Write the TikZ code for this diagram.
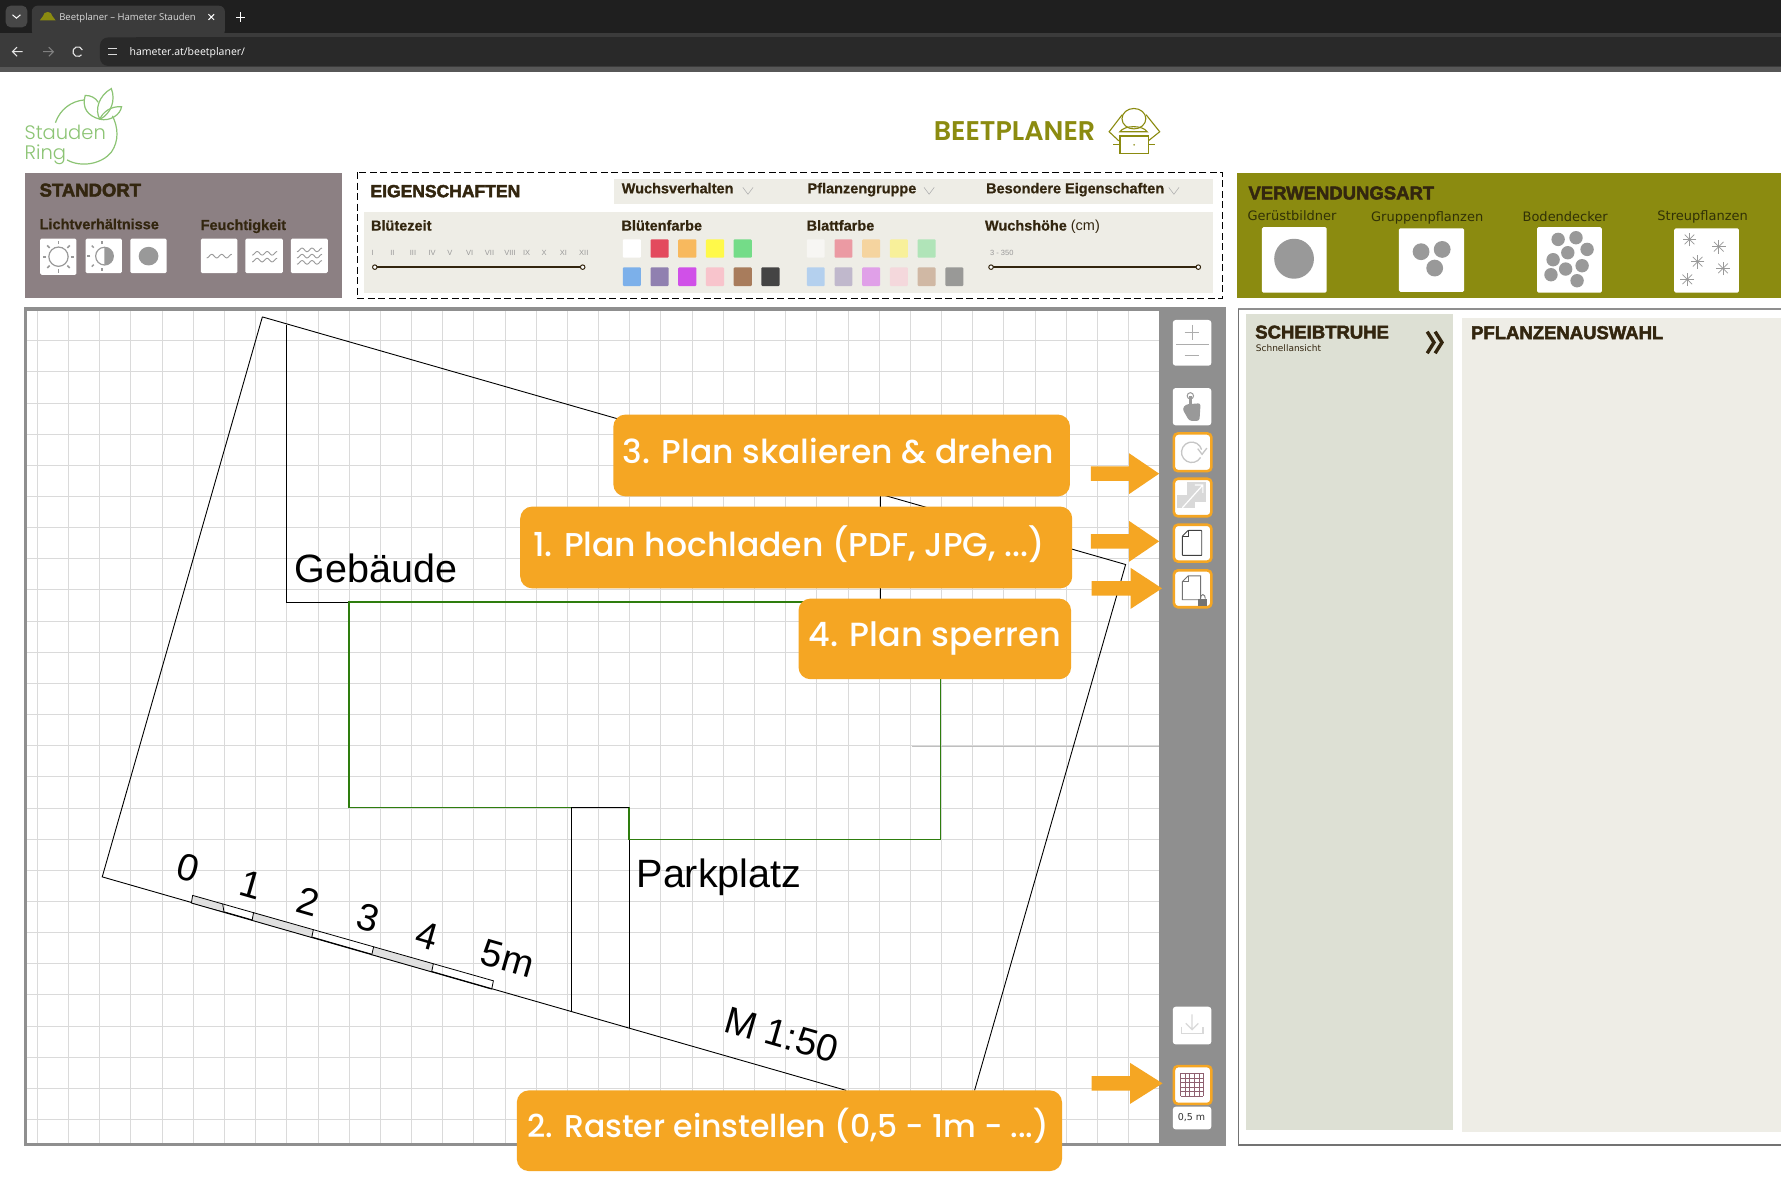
\documentclass[tikz,border=0pt]{standalone}
\usepackage{fontspec}
\setmainfont{Liberation Sans}
\newfontfamily\hvy{Liberation Sans Bold}[FakeBold=2.6]
\newfontfamily\semi{Liberation Sans Bold}[FakeBold=0.6]
\newfontfamily\djv{DejaVu Sans}
\newfontfamily\pop{Poppins Medium}
\newfontfamily\popb{Poppins SemiBold}
\newfontfamily\popl{Poppins Light}
\newfontfamily\ops{Open Sans}
\definecolor{dk}{HTML}{33260F}
\definecolor{mauve}{HTML}{8C8083}
\definecolor{olive}{HTML}{8B8B10}
\definecolor{panel}{HTML}{EEEDE6}
\definecolor{sage}{HTML}{DDE0D4}
\definecolor{side}{HTML}{8F8F8F}
\definecolor{org}{HTML}{F5A623}
\definecolor{grd}{HTML}{DADADA}
\definecolor{leaf}{HTML}{8CC474}
\definecolor{ico}{HTML}{999999}
\definecolor{grn}{HTML}{2E7D0E}
\tikzset{
  lbl/.style={anchor=base west,inner sep=0pt,text=dk},
  tt/.style={lbl,font=\hvy\fontsize{18.5}{18.5}\selectfont},
  sub/.style={lbl,font=\semi\fontsize{14.5}{14.5}\selectfont},
  vw/.style={anchor=base,inner sep=0pt,text=black!65!olive,font=\djv\fontsize{13}{13}\selectfont},
  mon/.style={inner sep=0pt,text=gray!80,font=\fontsize{7.5}{7.5}\selectfont},
  white box/.style={fill=white,rounded corners=1.5pt},
  btn/.style={fill=white,rounded corners=3pt},
  obtn/.style={fill=white,draw=org,line width=2.6pt,rounded corners=4pt},
  callout/.style={fill=org,rounded corners=12pt},
  calltxt/.style={inner sep=0pt,text=white,font=\pop\fontsize{33}{33}\selectfont},
  plan/.style={draw=black,line width=0.9pt},
  ptxt/.style={inner sep=0pt,text=black,font=\fontsize{39.5}{39.5}\selectfont},
  sc/.style={inner sep=0pt,text=black,rotate=-16,font=\fontsize{38}{38}\selectfont},
  swatch/.style={rounded corners=1pt},
  knob/.style={fill=white,draw=dk,line width=1pt},
  sl/.style={draw=dk,line width=1.4pt},
  wave/.style={draw=ico,line width=0.9pt},
  dot/.style={fill=ico},
  icon/.style={draw=ico,line width=1pt},
  lf/.style={draw=leaf,line width=1.2pt},
}
\newcommand\wv[2]{\draw[wave] plot[domain=-11:11,samples=25] ({#1+\x},{#2-1.6*sin(\x*41)});}
\newcommand\aster[2]{\foreach \a in {0,45,90,135}{\draw[draw=ico,line width=0.7pt] ({#1+6*cos(\a)},{#2+6*sin(\a)}) -- ({#1-6*cos(\a)},{#2-6*sin(\a)});}}
\newcommand\arrw[5]{\fill[org] (#1,{#4-6.3}) -- (#2,{#4-6.3}) -- (#2,{#4-#5}) -- (#3,#4) -- (#2,{#4+#5}) -- (#2,{#4+6.3}) -- (#1,{#4+6.3}) -- cycle;}
\begin{document}
\begin{tikzpicture}[x=1.1358pt,y=-1.1358pt]
\useasboundingbox (0,0) rectangle (1568,1045.07);
\fill[white] (0,0) rectangle (1568,1045.07);
% browser chrome
\fill[black!88] (0,0) rectangle (1568,29);
\fill[black!77] (0,29) rectangle (1568,60);
\fill[black!66] (0,59) rectangle (1568,63);
\fill[black!84,rounded corners=8pt] (88,33) rectangle (200,58);
\fill[black!84] (120,33) rectangle (1568,58);
\fill[black!72,rounded corners=5pt] (5,5) rectangle (24,24);
\fill[black!77,rounded corners=6pt] (28,5) rectangle (198,32);
\draw[white,line width=1pt] (11,13) -- (14.5,16) -- (18,13);
\fill[olive] (35,18) -- (38,14) arc (180:360:4 and 3.5) -- (49,18) -- cycle;
\node[anchor=west,inner sep=0pt,text=white!85!black,font=\ops\fontsize{9.5}{9.5}\selectfont] (tab) at (52,15.5) {Beetplaner – Hameter Stauden};
\draw[white,line width=1pt] (183.5,12.5) -- (188.5,17.5) (188.5,12.5) -- (183.5,17.5);
\draw[white,line width=1pt] (212,11) -- (212,19) (208,15) -- (216,15);
\draw[white!90!black,line width=1.1pt] (20,45.5) -- (11,45.5) (15,41.5) -- (11,45.5) -- (15,49.5);
\draw[white!50!black,line width=1.1pt] (38,45.5) -- (47,45.5) (43,41.5) -- (47,45.5) -- (43,49.5);
\draw[white!90!black,line width=1.1pt] (72.5,44) arc (-20:-320:4.3);
\draw[white!85!black,line width=1pt] (95,43) -- (103,43) (95,48) -- (103,48);
\node[anchor=west,inner sep=0pt,text=white,font=\ops\fontsize{10.5}{10.5}\selectfont] (url) at (114,46.5) {hameter.at/beetplaner/};
% logo
\draw[lf] (48.8,108) .. controls (53,96) and (63,89) .. (74,88);
\draw[lf] (99,102) .. controls (104,112) and (105,124) .. (98,134) .. controls (90,144) and (72,148) .. (59,140.8);
\draw[lf] (88,105) .. controls (83,97) and (87,84) .. (98,78) .. controls (102,88) and (98,100) .. (88,105);
\draw[lf] (88,105) .. controls (77,102) and (72,95) .. (75,84) .. controls (80,84) and (84,86) .. (86.5,90);
\draw[lf] (88,105) .. controls (90,99) and (98,93) .. (107,94) .. controls (106,101) and (97,107) .. (88,105);
\node[anchor=base west,inner sep=0pt,text=leaf,font=\popl\fontsize{19.5}{19.5}\selectfont] (logoa) at (21.5,123) {Stauden};
\node[anchor=base west,inner sep=0pt,text=leaf,font=\popl\fontsize{19.5}{19.5}\selectfont] (logob) at (21.5,140) {Ring};
% title
\node[anchor=base west,inner sep=0pt,text=olive,font=\popb\fontsize{27}{27}\selectfont] (bp) at (822,124) {BEETPLANER};
\draw[olive,line width=1.1pt] (998.3,104.5) ellipse (10.5 and 9);
\draw[olive,line width=1.1pt] (988,101) -- (976.5,116) -- (985,124);
\draw[olive,line width=1.1pt] (1009,101) -- (1021,116) -- (1011,124);
\draw[olive,line width=1.1pt] (986,116) .. controls (990,110) and (1006,110) .. (1010,116) -- cycle;
\draw[olive,line width=1.1pt] (986,119.7) rectangle (1011,135);
\draw[olive,line width=1.1pt] (980,127) -- (986,127) (1011,127) -- (1017,127);
\fill[olive] (998.5,127.5) circle (0.8);
% Standort
\fill[mauve] (22,152) rectangle (301,262);
\node[tt] (standort) at (34.7,173) {STANDORT};
\node[sub] (licht) at (34.7,201.8) {Lichtverhältnisse};
\node[sub] (feucht) at (176.5,202.5) {Feuchtigkeit};
\fill[white box] (35.4,210) rectangle (67.3,242);
\fill[white box] (75.4,210) rectangle (107.3,240.5);
\fill[white box] (114.8,210) rectangle (146.8,240.5);
\fill[white box] (176.8,210) rectangle (209,240.5);
\fill[white box] (216,210) rectangle (249,240.5);
\fill[white box] (256,210) rectangle (288.6,240.5);
\draw[icon,line width=1.2pt] (51.5,226) circle (8.5);
\foreach \a in {0,45,...,315}{\draw[draw=ico,line width=1.6pt] ({51.5+11*cos(\a)},{226+11*sin(\a)}) -- ({51.5+14*cos(\a)},{226+14*sin(\a)});}
\draw[icon,line width=1.2pt] (92,225.5) circle (7.8);
\fill[ico] (92,217.7) arc (-90:90:7.8) -- cycle;
\foreach \a in {90,135,180,225,270}{\draw[draw=ico,line width=1.5pt] ({90+10.5*cos(\a)},{225.5+10.5*sin(\a)}) -- ({90+13*cos(\a)},{225.5+13*sin(\a)});}
\fill[ico] (130.8,225.5) ellipse (8.7 and 8.2);
\wv{193}{225.5}
\wv{233}{223}\wv{233}{229}
\wv{272.5}{220}\wv{272.5}{225.5}\wv{272.5}{231}
% Eigenschaften
\draw[black,line width=1pt,dash pattern=on 7pt off 3.5pt] (314.6,151.5) rectangle (1076.5,262.5);
\node[lbl,font=\hvy\fontsize{17.5}{17.5}\selectfont] (eig) at (326,173.6) {EIGENSCHAFTEN};
\fill[panel] (540.4,157.3) rectangle (1067.6,179.3);
\fill[panel] (320.5,186.6) rectangle (1067.6,257.7);
\node[sub] (wuchs) at (547.2,170.2) {Wuchsverhalten};
\node[sub] (pfl) at (710.8,170.2) {Pflanzengruppe};
\node[sub] (bes) at (868,170.2) {Besondere Eigenschaften};
\foreach \c in {658.5,818,1033.5}{\draw[draw=gray!60,line width=0.6pt] ({\c-4.5},165) -- (\c,171) -- ({\c+4.5},165);}
\node[sub] (bz) at (326.5,203) {Blütezeit};
\node[sub] (bf) at (547,203) {Blütenfarbe};
\node[sub] (bl) at (710,203) {Blattfarbe};
\node[lbl,font=\semi\fontsize{14.5}{14.5}\selectfont] (wh) at (867,203) {Wuchshöhe \normalfont\fontsize{14.5}{14.5}\selectfont(cm)};
\node[mon] (m1) at (328,223) {I};
\node[mon] (m2) at (345.5,223) {II};
\node[mon] (m3) at (363.6,223) {III};
\node[mon] (m4) at (380.5,223) {IV};
\node[mon] (m5) at (396,223) {V};
\node[mon] (m6) at (413.5,223) {VI};
\node[mon] (m7) at (431,223) {VII};
\node[mon] (m8) at (449,223) {VIII};
\node[mon] (m9) at (463.6,223) {IX};
\node[mon] (m10) at (479,223) {X};
\node[mon] (m11) at (496,223) {XI};
\node[mon] (m12) at (514,223) {XII};
\draw[sl] (330,235.2) -- (513,235.2);
\draw[knob] (330,235.2) circle (2); \draw[knob] (513,235.2) circle (2);
\node[mon] (hr) at (882,222.5) {3 - 350};
\draw[sl] (872.5,235.2) -- (1055,235.2);
\draw[knob] (872.5,235.2) circle (2); \draw[knob] (1055,235.2) circle (2);
\foreach \i/\cc in {0/FFFFFF,1/E34A5E,2/F8B95E,3/FFF94A,4/74DC88}{
  \definecolor{tmp}{HTML}{\cc}
  \fill[swatch,tmp] ({548.3+24.4*\i},210.7) rectangle ({564.3+24.4*\i},226.9);}
\foreach \i/\cc in {0/7CB0EA,1/9080B0,2/D050E8,3/F8C4CC,4/A87C5C,5/444444}{
  \definecolor{tmp}{HTML}{\cc}
  \fill[swatch,tmp] ({548.3+24.4*\i},235.4) rectangle ({564.3+24.4*\i},251.8);}
\foreach \i/\cc in {0/F7F6F3,1/EB9AA3,2/F5D49F,3/F8F09A,4/B0E4B8}{
  \definecolor{tmp}{HTML}{\cc}
  \fill[swatch,tmp] ({710.3+24.4*\i},210.7) rectangle ({726.1+24.4*\i},226.9);}
\foreach \i/\cc in {0/B4D0EE,1/C0B8CC,2/E0A0E8,3/F4D8DC,4/D0B8A4,5/999997}{
  \definecolor{tmp}{HTML}{\cc}
  \fill[swatch,tmp] ({710.3+24.4*\i},235.4) rectangle ({726.1+24.4*\i},251.8);}
% Verwendungsart
\fill[olive] (1089,152) rectangle (1568,262);
\node[tt] (vw) at (1099,175.5) {VERWENDUNGSART};
\node[vw] (g1) at (1137.5,193.7) {Gerüstbildner};
\node[vw] (g2) at (1256.5,194.6) {Gruppenpflanzen};
\node[vw] (g3) at (1378,194.6) {Bodendecker};
\node[vw] (g4) at (1499,194) {Streupflanzen};
\fill[white box] (1111,200) rectangle (1168,257.7);
\fill[white box] (1231.6,201) rectangle (1289,257);
\fill[white box] (1353.2,200) rectangle (1410.3,257.7);
\fill[white box] (1474,201) rectangle (1531,257.7);
\fill[dot] (1139.3,227.8) ellipse (17.5 and 17.6);
\foreach \px/\py in {1251.1/221.6,1269.7/219.6,1263.1/236}{\fill[dot] (\px,\py) circle (7.4);}
\foreach \p/\q in {945/238,995/233,972/278,1026/268,931/299,1012/317,966/327,925/344,998/362}{\fill[dot] ({1074.1+\p*0.315},{140.9+\q*0.2935}) circle (5.9);}
\aster{1487.4}{210.8}\aster{1513.2}{217.2}\aster{1494.6}{230.4}\aster{1517}{236.3}\aster{1485.5}{246}
% canvas
\fill[white] (22,272) rectangle (1079,1008);
\begin{scope}
\clip (23,273) rectangle (1020.5,1006);
\foreach \k in {-2,...,34}{\draw[grd,line width=0.8pt] ({87.75+27.45*\k},273) -- ({87.75+27.45*\k},1006);}
\foreach \k in {-17,...,10}{\draw[grd,line width=0.8pt] (23,{738.7+27.42*\k}) -- (1020.5,{738.7+27.42*\k});}
\draw[black!25,line width=0.9pt] (803,657) -- (1020,657);
\end{scope}
% plan
\draw[plan] (231,279) -- (90,772) -- (745,960);
\draw[plan] (231,279) -- (991,497) -- (858,960);
\draw[plan] (252,286) -- (252,530) -- (775,530) -- (775,437);
\draw[plan] (503,711) -- (503,891);
\draw[plan] (503,711) -- (554,711) -- (554,905);
\draw[draw=grn,line width=1.7pt] (307,530) -- (828,530) -- (828,739) -- (554,739) -- (554,711) -- (307,711) -- cycle;
\draw[plan] (503,711) -- (554,711);
\fill[black!12] (169.6,788.3) -- (196,795.7) -- (197.2,802.7) -- (168.5,795) -- cycle;
\fill[black!12] (223.3,803) -- (275.9,818.3) -- (274.4,825.6) -- (221.9,810.6) -- cycle;
\fill[black!12] (329,833.5) -- (381.5,848.5) -- (380,855.8) -- (327.2,840.9) -- cycle;
\draw[black,line width=0.8pt] (168.5,795) -- (169.6,788.3) -- (434.4,863.5) -- (432.9,870.8);
\foreach \ka/\kb/\kc/\kd in {196/795.7/197.2/802.7, 223.3/803/221.9/810.6, 275.9/818.3/274.4/825.6, 329/833.5/327.2/840.9, 381.5/848.5/380/855.8}{\draw[black,line width=0.8pt] (\ka,\kb) -- (\kc,\kd);}
\draw[plan] (168.5,795) -- (432.9,870.8);
\node[ptxt] (geb) at (331,500) {Gebäude};
\node[ptxt] (park) at (633,772.5) {Parkplatz};
\node[sc] (s0) at (165.5,764) {0};
\node[sc] (s1) at (221,779) {1};
\node[sc] (s2) at (271.5,794) {2};
\node[sc] (s3) at (324,808) {3};
\node[sc] (s4) at (376,824) {4};
\node[sc] (s5) at (447,844) {5m};
\node[sc] (ms) at (688,911) {M 1:50};
% sidebar and frame
\fill[side] (1020.5,272) rectangle (1078.6,1006);
\draw[side,line width=3.4pt] (22.5,272) rectangle (1078,1007.5);
\fill[btn] (1032.5,281.7) rectangle (1066.5,322);
\draw[draw=ico!80,line width=0.9pt] (1049.5,286) -- (1049.5,299) (1043,292.5) -- (1056,292.5);
\draw[draw=ico!80,line width=0.9pt] (1035.5,303) -- (1064,303);
\draw[draw=ico!80,line width=0.9pt] (1043,312.5) -- (1056,312.5);
\fill[btn] (1032.5,341.6) rectangle (1066.5,374.5);
\draw[icon] (1048,348.5) circle (2.8);
\fill[ico] (1046.8,349) rectangle (1049.2,358);
\fill[ico,rounded corners=2.5pt] (1044,356) -- (1057,355) -- (1056,370.5) -- (1047,370.5) -- (1041,360) -- cycle;
\draw[obtn] (1033.5,381.6) rectangle (1066.5,414.8);
\draw[draw=gray!45,line width=1.3pt] (1057,402.7) arc (30:345:9);
\draw[draw=gray!45,line width=1.3pt] (1054.5,395) -- (1058.3,400) -- (1062.5,394.5);
\draw[obtn] (1033.5,421.5) rectangle (1066.5,454.5);
\fill[gray!30] (1036.6,436) rectangle (1052,447.5);
\fill[gray!30] (1044.8,424) rectangle (1061.8,441.7);
\draw[white,line width=1.2pt] (1041,447) -- (1059,427) (1052,427) -- (1059,427) -- (1059,434);
\draw[obtn] (1033.5,462) rectangle (1066.5,494.4);
\draw[black!75,line width=0.9pt,rounded corners=0.5pt] (1041,472) -- (1046,467) -- (1058,467) -- (1058,489) -- (1041,489) -- cycle;
\draw[black!75,line width=0.8pt] (1041,472) -- (1046,472) -- (1046,467);
\draw[obtn] (1033.5,502.2) rectangle (1066.5,534.6);
\draw[black!55,line width=0.9pt] (1041,512) -- (1046,507) -- (1057,507) -- (1057,528) -- (1041,528) -- cycle;
\draw[black!55,line width=0.8pt] (1041,512) -- (1046,512) -- (1046,507);
\fill[black!55] (1055,527.4) rectangle (1063,533.5);
\draw[black!55,line width=0.9pt] (1056.8,527) arc (180:360:2.2 and 3.5);
\fill[btn] (1032.5,886.3) rectangle (1066.5,919.5);
\draw[draw=gray!30,line width=1.3pt] (1040,904) -- (1040,910) -- (1059,910) -- (1059,904);
\draw[draw=gray!30,line width=1.3pt] (1049.5,893) -- (1049.5,906) (1044,901) -- (1049.5,906.5) -- (1055,901);
\draw[obtn] (1033.5,938.6) rectangle (1066.5,971.9);
\foreach \k in {0,...,5}{\draw[draw=gray!75!purple,line width=0.7pt] ({1039.5+4*\k},945) -- ({1039.5+4*\k},965) (1039.5,{945+4*\k}) -- (1059.5,{945+4*\k});}
\fill[btn] (1032.5,974.3) rectangle (1066.5,994.3);
\node[inner sep=0pt,text=black!80,font=\djv\fontsize{9.5}{9.5}\selectfont] (gridv) at (1049,984.3) {0,5 m};
% right panel
\fill[white] (1090,272) rectangle (1568,1008);
\draw[side,line width=2pt] (1568,272.3) -- (1090.3,272.3);
\draw[black!55,line width=1.8pt] (1090.3,272.3) -- (1090.3,1008.3) -- (1568,1008.3);
\fill[sage] (1096.8,276.5) rectangle (1278.9,995);
\fill[panel] (1287.4,280.3) rectangle (1568,997);
\node[lbl,font=\hvy\fontsize{18.5}{18.5}\selectfont] (sch) at (1105,298) {SCHEIBTRUHE};
\node[lbl,font=\djv\fontsize{9}{9}\selectfont] (schn) at (1105.5,309.7) {Schnellansicht};
\draw[dk,line width=3.4pt] (1256.5,292) -- (1262.5,301.5) -- (1256.5,311);
\draw[dk,line width=3.4pt] (1263.5,292) -- (1269.5,301.5) -- (1263.5,311);
\node[lbl,font=\hvy\fontsize{18.5}{18.5}\selectfont] (pa) at (1295,298.5) {PFLANZENAUSWAHL};
% callouts and arrows
\fill[callout] (540,365) rectangle (942,437);
\node[calltxt] (c3) at (738,397.5) {3. Plan skalieren \& drehen};
\fill[callout] (458,446) rectangle (944,518);
\node[calltxt] (c1) at (694.5,479.5) {1. Plan hochladen (PDF, JPG, ...)};
\fill[callout] (703,527) rectangle (943,598);
\node[calltxt,font=\pop\fontsize{33.5}{33.5}\selectfont] (c4) at (823,562.5) {4. Plan sperren};
\fill[callout] (455,960) rectangle (935,1031);
\node[calltxt,font=\pop\fontsize{31.5}{31.5}\selectfont] (c2) at (694,991.5) {2. Raster einstellen (0,5 - 1m - ...)};
\arrw{960.3}{994}{1020.5}{417}{18}
\arrw{960.3}{994}{1020.5}{476.6}{18}
\arrw{961}{995.5}{1023}{518}{18}
\arrw{961}{995}{1023.5}{953.8}{18}
\end{tikzpicture}
\end{document}
